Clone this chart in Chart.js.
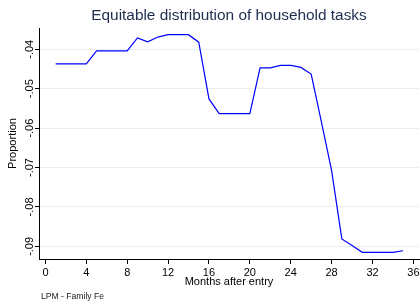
<!DOCTYPE html>
<html><head><meta charset="utf-8">
<script src="https://cdn.jsdelivr.net/npm/chart.js@4"></script>
<style>html,body{margin:0;padding:0;background:#fff;overflow:hidden}#wrap{width:420px;height:303px}</style>
</head><body><div id="wrap"><canvas id="c" width="420" height="303"></canvas></div>
<script>
const months = [1,2,3,4,5,6,7,8,9,10,11,12,13,14,15,16,17,18,19,20,21,22,23,24,25,26,27,28,29,30,31,32,33,34,35];
const proportion = [-0.0437,-0.0437,-0.0437,-0.0437,-0.0404,-0.0404,-0.0404,-0.0404,-0.0371,-0.0381,
  -0.0369,-0.0363,-0.0363,-0.0363,-0.0382,-0.0526,-0.0563,-0.0563,-0.0563,-0.0563,
  -0.0447,-0.0447,-0.0441,-0.0441,-0.0446,-0.0463,-0.0584,-0.0708,-0.0881,-0.0898,
  -0.0915,-0.0915,-0.0915,-0.0915,-0.0911];
const xTicks = [0,4,8,12,16,20,24,28,32,36];
const yTicks = [-0.04,-0.05,-0.06,-0.07,-0.08,-0.09];
const yTickLabels = ['-.04','-.05','-.06','-.07','-.08','-.09'];
const titleText = 'Equitable distribution of household tasks';
const xTitle = 'Months after entry';
const yTitle = 'Proportion';
const noteText = 'LPM - Family Fe';

const F = "'Liberation Sans', Arial, Helvetica, sans-serif";

const extraText = {
  id: 'extraText',
  afterDraw(chart) {
    const ctx = chart.ctx;
    const ys = chart.scales.y;
    ctx.save();
    ctx.fillStyle = '#000';
    ctx.font = '11px ' + F;
    ctx.textAlign = 'center';
    ctx.textBaseline = 'middle';
    yTicks.forEach((v, i) => {
      const py = ys.getPixelForValue(v);
      ctx.save();
      ctx.translate(29.5, py);
      ctx.rotate(-Math.PI / 2);
      ctx.fillText(yTickLabels[i], 0, 0);
      ctx.restore();
    });
    ctx.font = '8.6px ' + F;
    ctx.textAlign = 'left';
    ctx.textBaseline = 'middle';
    ctx.fillStyle = '#222';
    ctx.fillText(noteText, 41, 297);
    ctx.restore();
  }
};

new Chart(document.getElementById('c'), {
  type: 'line',
  data: {
    datasets: [{
      data: months.map((m, i) => ({x: m, y: proportion[i]})),
      borderColor: '#0000ff',
      borderWidth: 1.2,
      pointRadius: 0,
      tension: 0,
      fill: false
    }]
  },
  options: {
    responsive: false,
    animation: false,
    devicePixelRatio: 1,
    layout: {padding: {left: 0, right: 1, top: 0, bottom: 0}},
    plugins: {
      legend: {display: false},
      tooltip: {enabled: false},
      title: {
        display: true, text: titleText, fullSize: false,
        color: '#1e2d4f',
        font: {family: F, size: 15.4, weight: 'normal'},
        padding: {top: 6.5, bottom: 3.02}
      }
    },
    scales: {
      x: {
        type: 'linear', min: -0.63, max: 36.55,
        afterBuildTicks: s => { s.ticks = xTicks.map(v => ({value: v})); },
        afterFit: s => { s.height = 44; s.paddingLeft = 0; s.paddingRight = 0; },
        grid: {drawOnChartArea: false, drawTicks: true, tickLength: 5, tickColor: '#000', tickWidth: 1},
        border: {display: true, color: '#000', width: 1},
        ticks: {color: '#000', font: {family: F, size: 11}, padding: 2.5, maxRotation: 0, autoSkip: false,
          callback: v => String(v)},
        title: {display: true, text: xTitle, color: '#000', font: {family: F, size: 11},
          padding: {top: 0, bottom: 14}}
      },
      y: {
        type: 'linear', min: -0.0932, max: -0.0346,
        afterBuildTicks: s => { s.ticks = yTicks.map(v => ({value: v})); },
        afterFit: s => { s.width = 39; s.paddingTop = 0; s.paddingBottom = 0; },
        grid: {color: '#e8f0f2', lineWidth: 1, drawTicks: true, tickLength: 4, tickColor: '#000', tickWidth: 1},
        border: {display: true, color: '#000', width: 1},
        ticks: {display: false},
        title: {display: true, text: yTitle, color: '#000', font: {family: F, size: 11},
          padding: {top: 6, bottom: 0}}
      }
    }
  },
  plugins: [extraText]
});
</script>
</body></html>
